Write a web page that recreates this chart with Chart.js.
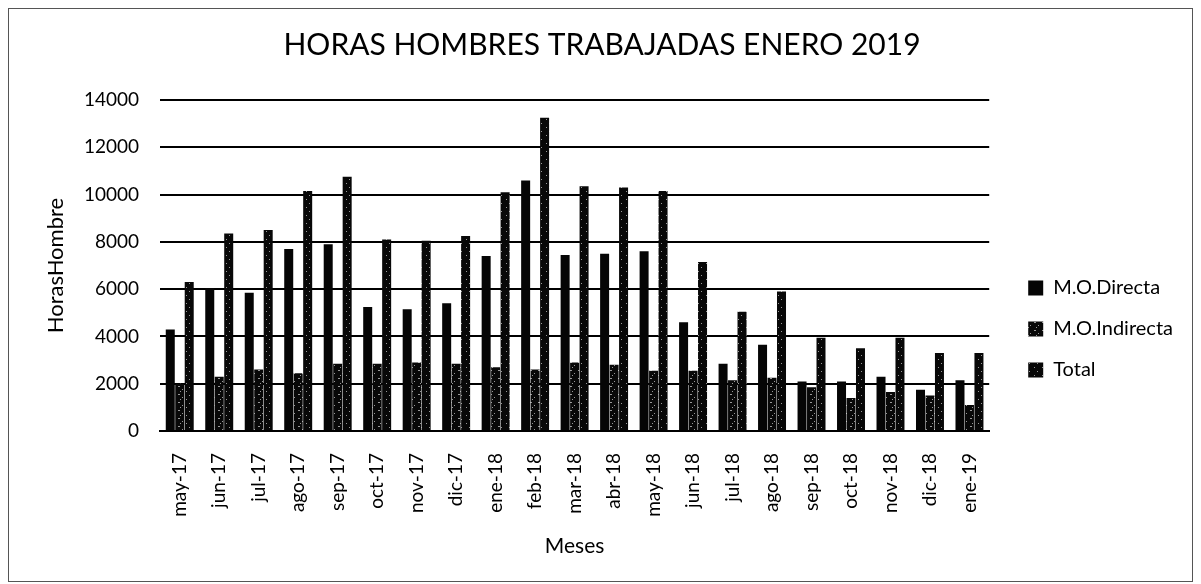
<!DOCTYPE html>
<html lang="es">
<head>
    <meta charset="UTF-8">
    <title>Horas Hombres Trabajadas Enero 2019</title>
    <script src="https://cdn.jsdelivr.net/npm/chart.js"></script>
    <style>
        body {
            margin: 0;
            background: #fff;
        }
        .frame {
            position: absolute;
            left: 8px;
            top: 8px;
            width: 1183px;
            height: 572px;
            border: 1px solid #555;
        }
    </style>
</head>
<body>
    <div class="frame">
        <canvas id="chart" width="1183" height="572"></canvas>
    </div>

    <script>
        const meses = ["may-17", "jun-17", "jul-17", "ago-17", "sep-17", "oct-17", "nov-17", "dic-17",
            "ene-18", "feb-18", "mar-18", "abr-18", "may-18", "jun-18", "jul-18", "ago-18",
            "sep-18", "oct-18", "nov-18", "dic-18", "ene-19"];
        const moDirecta = [4300, 6050, 5850, 7700, 7900, 5250, 5150, 5400, 7400, 10600, 7450, 7500,
            7600, 4600, 2850, 3650, 2100, 2100, 2300, 1750, 2150];
        const moIndirecta = [2000, 2300, 2600, 2450, 2850, 2850, 2900, 2850, 2700, 2600, 2900, 2800,
            2550, 2550, 2150, 2250, 1850, 1400, 1650, 1500, 1100];
        const total = [6300, 8350, 8500, 10150, 10750, 8100, 8050, 8250, 10100, 13250, 10350, 10300,
            10150, 7150, 5050, 5900, 3950, 3500, 3950, 3300, 3300];

        // speckled fills to look like the scanned bars
        function speckle(dots) {
            const c = document.createElement("canvas");
            c.width = 8; c.height = 8;
            const g = c.getContext("2d");
            g.fillStyle = "#080808";
            g.fillRect(0, 0, 8, 8);
            g.fillStyle = "#999";
            dots.forEach(d => g.fillRect(d[0], d[1], 1, 1));
            return g.createPattern(c, "repeat");
        }
        const ctx = document.getElementById("chart").getContext("2d");
        const fillD = "#050505";
        const fillI = speckle([[1, 1], [2, 1], [5, 4], [3, 6]]);
        const fillT = speckle([[4, 2], [1, 6]]);

        const fuente = "Lato, 'Open Sans', sans-serif";

        // nudge the legend: a gap after the plot and a bit lower, like the original
        const moverLeyenda = {
            id: "moverLeyenda",
            afterLayout(chart) {
                const lg = chart.legend;
                const w = lg.right - lg.left;
                lg.left = chart.chartArea.right + 18;
                lg.right = lg.left + w;
                lg.top = 248;
            }
        };

        new Chart(ctx, {
            type: "bar",
            data: {
                labels: meses,
                datasets: [
                    { label: "M.O.Directa", data: moDirecta, backgroundColor: fillD },
                    { label: "M.O.Indirecta", data: moIndirecta, backgroundColor: fillI },
                    { label: "Total", data: total, backgroundColor: fillT }
                ]
            },
            plugins: [moverLeyenda],
            options: {
                responsive: false,
                animation: false,
                datasets: { bar: { barPercentage: 0.95, categoryPercentage: 0.72 } },
                layout: { padding: { left: 30, right: 27, top: 18, bottom: 20 } },
                plugins: {
                    title: {
                        display: true,
                        text: "HORAS HOMBRES TRABAJADAS ENERO 2019",
                        color: "#000",
                        font: { family: fuente, size: 30, weight: "normal" },
                        padding: { top: 0, bottom: 37 }
                    },
                    legend: {
                        position: "right",
                        align: "start",
                        labels: {
                            color: "#000",
                            font: { family: fuente, size: 20 },
                            boxWidth: 15,
                            boxHeight: 15,
                            padding: 21
                        }
                    },
                    tooltip: { enabled: false }
                },
                scales: {
                    x: {
                        grid: { display: false },
                        border: { color: "#000", width: 2 },
                        ticks: {
                            color: "#000",
                            font: { family: fuente, size: 19 },
                            maxRotation: 90,
                            minRotation: 90,
                            autoSkip: false,
                            padding: 14
                        },
                        title: {
                            display: true,
                            text: "Meses",
                            color: "#000",
                            font: { family: fuente, size: 21 },
                            padding: { top: 3, bottom: 2 }
                        }
                    },
                    y: {
                        min: 0,
                        max: 14000,
                        afterFit(scale) { scale.width = 121; },
                        ticks: {
                            stepSize: 2000,
                            color: "#000",
                            font: { family: fuente, size: 19 },
                            padding: 21,
                            callback: v => String(v)
                        },
                        grid: { color: "#000", lineWidth: 2, drawTicks: false },
                        border: { display: false },
                        title: {
                            display: true,
                            text: "HorasHombre",
                            color: "#000",
                            font: { family: fuente, size: 22 },
                            padding: { top: 4, bottom: 4 }
                        }
                    }
                }
            }
        });
    </script>
</body>
</html>
